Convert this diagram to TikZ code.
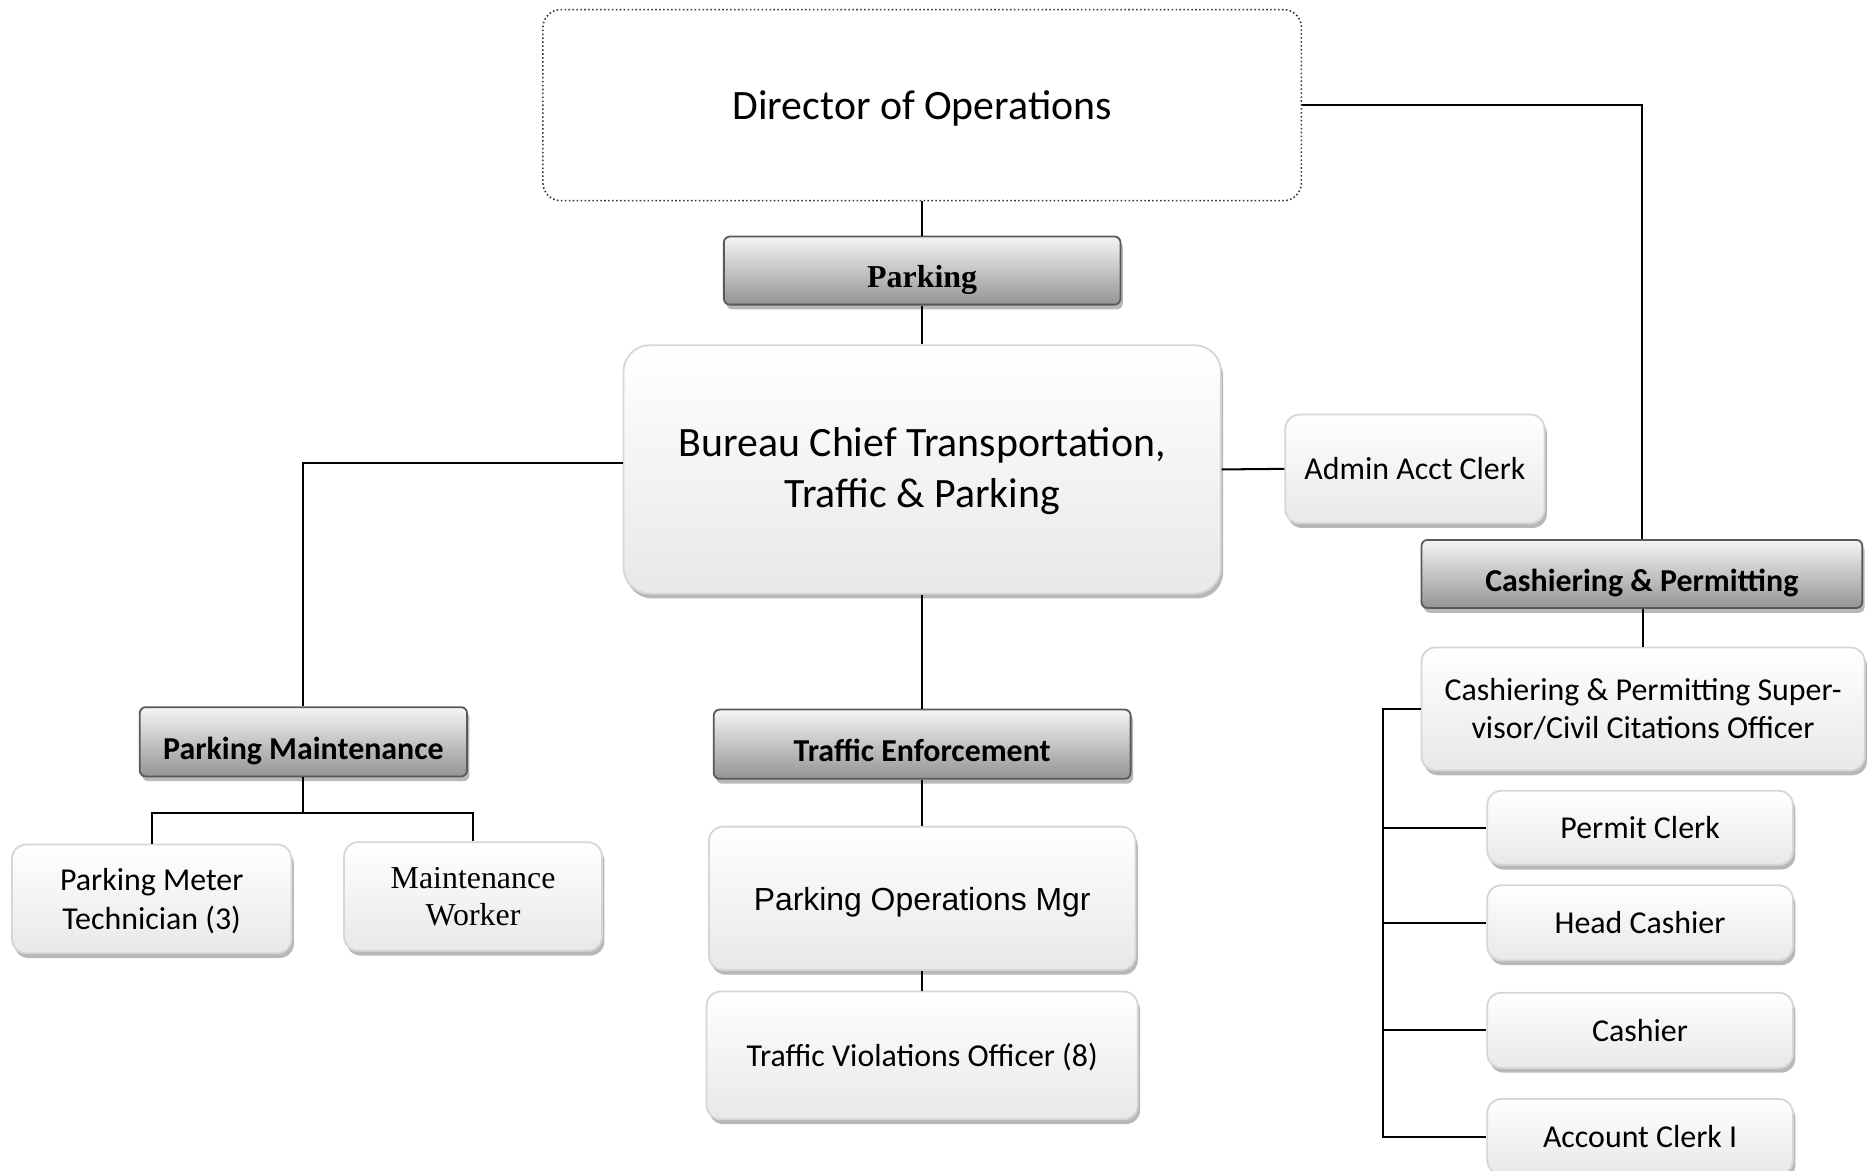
\documentclass[tikz,border=0pt]{standalone}
\usepackage{fontspec}
\setmainfont{Carlito}
\newfontfamily\tmsfont{Liberation Serif}
\newfontfamily\arlfont{Liberation Sans}
\usetikzlibrary{shadows}
\begin{document}
\begin{tikzpicture}[x=1pt,y=-1pt,
  conn/.style={line width=1.7pt, black},
  shad/.style={drop shadow={shadow xshift=2pt,shadow yshift=-4pt,fill=black!35,opacity=0.8}},
  regbox/.style={shad, draw=black!16, line width=1.5pt, top color=white, bottom color=black!9,
     rounded corners=12pt, align=center, inner sep=0pt, font=\fontsize{26.7}{32}\selectfont},
  hdrbox/.style={shad, draw=black!65, line width=1.5pt, top color=black!4, bottom color=black!42,
     rounded corners=5pt, align=center, inner sep=0pt, text height=29pt, text depth=0pt,
     font=\fontsize{26.7}{32}\selectfont\bfseries},
  dirbox/.style={draw=black!80, dotted, line width=1.3pt, fill=white, rounded corners=15pt,
     align=center, inner sep=0pt, font=\fontsize{35}{43}\selectfont}
]
\useasboundingbox (0,0) rectangle (1568,980);
\clip (0,0) rectangle (1568,980);
% nodes
\node[dirbox, minimum width=635pt, minimum height=160pt, text height=23.5pt, text depth=0pt] (dir) at (772,88) {Director of Operations};
\node[hdrbox, minimum width=332pt, minimum height=57pt, text height=28pt] (park) at (772,226.5) {\tmsfont\bfseries Parking};
\node[regbox, rounded corners=22pt, minimum width=500pt, minimum height=208pt, font=\fontsize{35}{43}\selectfont, text depth=3pt] (bur) at (772,393) {Bureau Chief Transportation,\\Traffic \& Parking};
\node[regbox, minimum width=217pt, minimum height=91pt] (admin) at (1184.5,392.5) {Admin Acct Clerk};
\node[hdrbox, minimum width=369pt, minimum height=57pt] (cph) at (1374.5,480.5) {Cashiering \& Permitting};
\node[regbox, minimum width=371pt, minimum height=103pt] (sup) at (1375.5,593.5) {Cashiering \& Permitting Super-\\visor/Civil Citations Officer};
\node[regbox, minimum width=256pt, minimum height=62pt] (permit) at (1373,693) {Permit Clerk};
\node[regbox, minimum width=256pt, minimum height=63pt] (headc) at (1373,772.5) {Head Cashier};
\node[regbox, minimum width=256pt, minimum height=63pt] (cashier) at (1373,862.5) {Cashier};
\node[regbox, minimum width=256pt, minimum height=63pt] (acct) at (1373,951.5) {Account Clerk I};
\node[hdrbox, minimum width=274pt, minimum height=58pt] (pmh) at (254,621) {Parking Maintenance};
\node[regbox, minimum width=234pt, minimum height=91pt, text depth=0pt] (meter) at (127,752.5) {Parking Meter\\Technician (3)};
\node[regbox, minimum width=216pt, minimum height=91pt, font=\fontsize{26.7}{31}\selectfont\tmsfont] (mworker) at (396,750.5) {Maintenance\\Worker};
\node[hdrbox, minimum width=349pt, minimum height=58pt] (teh) at (772,623) {Traffic Enforcement};
\node[regbox, minimum width=357pt, minimum height=120pt, font=\fontsize{26.7}{32}\selectfont\arlfont, text height=20pt, text depth=0pt] (pom) at (772,752) {Parking Operations Mgr};
\node[regbox, minimum width=361pt, minimum height=107pt, text height=19pt, text depth=0pt] (tvo) at (772,883.5) {Traffic Violations Officer (8)};
% junctions
\coordinate (bus) at (1158,593.5);
\coordinate (pmj) at (254,681);
% connectors
\draw[conn] (dir.south) -- (park.north);
\draw[conn] (park.south) -- (bur.north);
\draw[conn] (dir.east) -| (cph.north);
\draw[conn] ([yshift=5pt]bur.west) -| (pmh.north);
\draw[conn] (bur.east) -- (admin.west);
\draw[conn] (bur.south) -- (teh.north);
\draw[conn] (teh.south) -- (pom.north);
\draw[conn] (pom.south) -- (tvo.north);
\draw[conn] (cph.south -| sup.north) -- (sup.north);
\draw[conn] (sup.west) -- (bus) |- (acct.west);
\draw[conn] (bus |- permit.west) -- (permit.west);
\draw[conn] (bus |- headc.west) -- (headc.west);
\draw[conn] (bus |- cashier.west) -- (cashier.west);
\draw[conn] (pmh.south) -- (pmj);
\draw[conn] (meter.north) |- (pmj) -| (mworker.north);
\end{tikzpicture}
\end{document}
